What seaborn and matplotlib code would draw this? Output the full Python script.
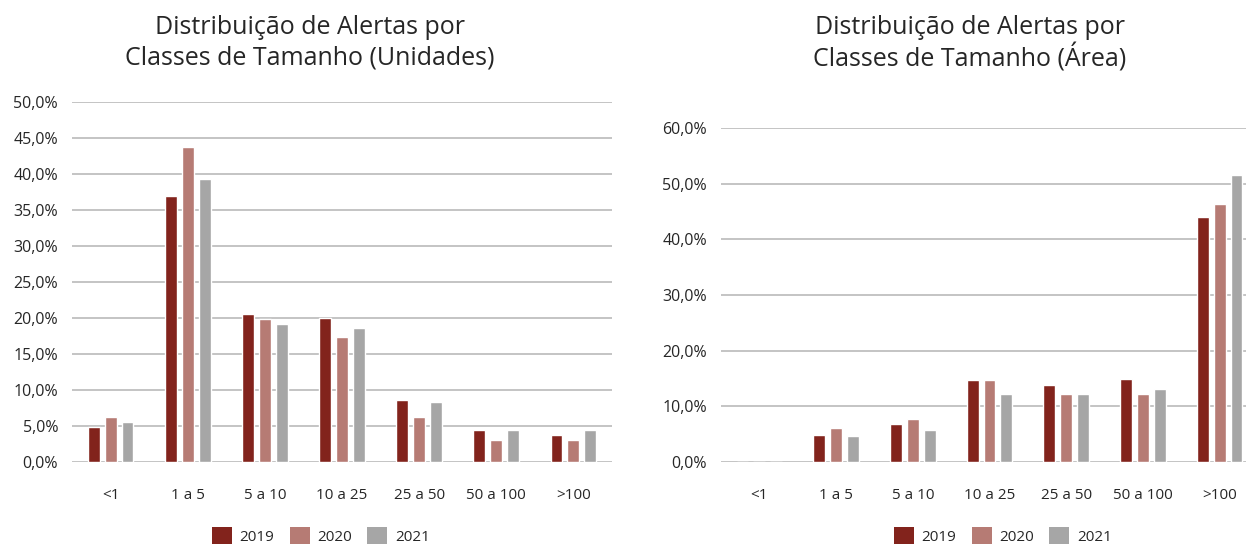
import matplotlib
matplotlib.use("Agg")
import matplotlib.pyplot as plt
from matplotlib.ticker import FuncFormatter, MultipleLocator
from matplotlib.patches import Patch
import seaborn as sns
import pandas as pd

# Size classes (hectares) and years
classes = ["<1", "1 a 5", "5 a 10", "10 a 25", "25 a 50", "50 a 100", ">100"]
years = ["2019", "2020", "2021"]

# Share of alerts by count (%)
units_2019 = [4.8, 37.0, 20.6, 20.0, 8.6, 4.5, 3.7]
units_2020 = [6.2, 43.7, 19.8, 17.3, 6.3, 3.1, 3.1]
units_2021 = [5.5, 39.3, 19.1, 18.6, 8.4, 4.4, 4.4]

# Share of alerted area (%)
area_2019 = [0.0, 4.8, 6.8, 14.7, 13.8, 15.0, 44.0]
area_2020 = [0.0, 6.1, 7.7, 14.7, 12.3, 12.3, 46.3]
area_2021 = [0.0, 4.6, 5.7, 12.3, 12.3, 13.1, 51.6]

colors = ["#82231C", "#B67B74", "#A6A6A6"]
grid_color = "#BFBFBF"
text_color = "#262626"


def long_table(series):
    rows = []
    for year, values in zip(years, series):
        for cls, v in zip(classes, values):
            rows.append({"classe": cls, "ano": year, "valor": v})
    return pd.DataFrame(rows)


df_units = long_table([units_2019, units_2020, units_2021])
df_area = long_table([area_2019, area_2020, area_2021])

sns.set_theme(style="white")
plt.rcParams["font.family"] = ["Open Sans", "DejaVu Sans"]

W, H = 1246, 545
fig = plt.figure(figsize=(W / 100, H / 100), dpi=100)


def px_axes(x0, x1, y_top, y_bottom):
    return fig.add_axes([x0 / W, (H - y_bottom) / H, (x1 - x0) / W, (y_bottom - y_top) / H])


ax1 = px_axes(72, 612, 102, 462)
# the area panel runs slightly past the right edge of the canvas
ax2 = px_axes(721, 1258, 128, 462)

pct = FuncFormatter(lambda v, _: f"{v:.1f}%".replace(".", ","))


def draw(ax, df, ymax, step):
    sns.barplot(data=df, x="classe", y="valor", hue="ano", order=classes,
                hue_order=years, palette=colors, width=0.66, gap=0.3,
                saturation=1, legend=False, ax=ax, zorder=3)
    ax.set_ylim(0, ymax)
    ax.set_xlim(-0.5, len(classes) - 0.5)
    ax.yaxis.set_major_locator(MultipleLocator(step))
    ax.yaxis.set_major_formatter(pct)
    ax.yaxis.grid(True, color=grid_color, linewidth=1.3, zorder=0)
    ax.set_axisbelow(True)
    for s in ax.spines.values():
        s.set_visible(False)
    ax.set_xlabel("")
    ax.set_ylabel("")
    ax.tick_params(axis="y", length=0, pad=10, labelsize=11.5, labelcolor=text_color)
    ax.tick_params(axis="x", length=0, pad=19, labelsize=11, labelcolor=text_color)


draw(ax1, df_units, 50, 5)
draw(ax2, df_area, 60, 10)

title_kw = dict(ha="center", va="center", fontsize=18, color=text_color)
fig.text(310 / W, 1 - 27 / H, "Distribuição de Alertas por", **title_kw)
fig.text(310 / W, 1 - 58 / H, "Classes de Tamanho (Unidades)", **title_kw)
fig.text(970 / W, 1 - 27 / H, "Distribuição de Alertas por", **title_kw)
fig.text(970 / W, 1 - 58 / H, "Classes de Tamanho (Área)", **title_kw)

handles = [Patch(facecolor=c, edgecolor="none", label=y) for c, y in zip(colors, years)]
for xc in (321, 1003):
    fig.legend(handles=handles, loc="center", bbox_to_anchor=(xc / W, 1 - 536 / H),
               ncol=3, frameon=False, fontsize=11, handlelength=1.3, handleheight=1.3,
               handletextpad=0.5, columnspacing=1.0, labelcolor=text_color)

fig.savefig("out.png", dpi=100)
